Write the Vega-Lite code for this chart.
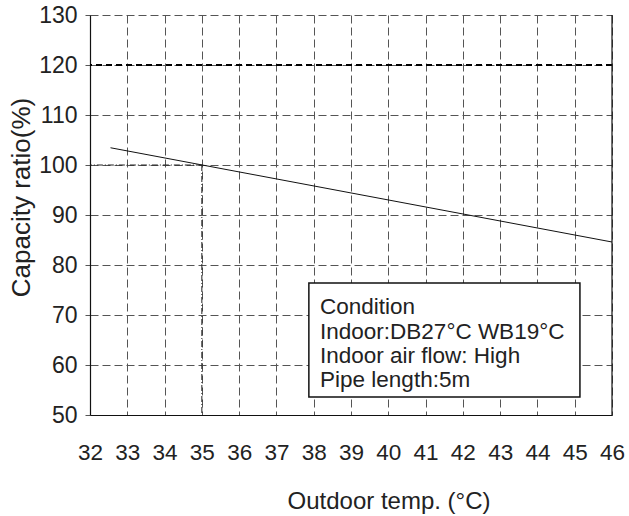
{
  "$schema": "https://vega.github.io/schema/vega-lite/v6.json",
  "width": 522,
  "height": 400,
  "autosize": {"type": "none"},
  "padding": {"left": 90, "top": 15, "right": 17, "bottom": 101},
  "background": "white",
  "config": {
    "view": {"stroke": null},
    "font": "Liberation Sans",
    "axis": {
      "grid": true, "gridDash": [8, 4], "gridColor": "#555", "gridWidth": 1,
      "domainColor": "#111", "domainWidth": 1.2,
      "labelColor": "#222", "labelFlush": false, "labelOverlap": false,
      "titleFontWeight": "normal", "titleColor": "#222"
    },
    "axisX": {
      "tickCount": 14, "labelFontSize": 22.5, "ticks": false, "tickSize": 0,
      "labelBaseline": "alphabetic", "labelPadding": 44,
      "titleFontSize": 24, "titleBaseline": "alphabetic", "titleY": 93, "titleX": 298.5
    },
    "axisY": {
      "tickCount": 8, "labelFontSize": 23, "tickSize": 5, "tickColor": "#555",
      "labelPadding": 8, "labelBaseline": "middle",
      "titleFontSize": 26, "titleBaseline": "alphabetic", "titleX": -61, "titleY": 182
    }
  },
  "datasets": {
    "curve": [
      {"temp": 32.55, "ratio": 103.45},
      {"temp": 46, "ratio": 84.6}
    ],
    "ref": [
      {"temp": 35, "ratio": 100}
    ],
    "box": [
      {"x1": 37.87, "x2": 45.14, "y1": 53.6, "y2": 76.4}
    ],
    "notes": [
      {"temp": 38.17, "ratio": 70.3, "label": "Condition"},
      {"temp": 38.17, "ratio": 65.3, "label": "Indoor:DB27°C WB19°C"},
      {"temp": 38.17, "ratio": 60.5, "label": "Indoor air flow: High"},
      {"temp": 38.17, "ratio": 55.7, "label": "Pipe length:5m"}
    ]
  },
  "layer": [
    {
      "data": {"name": "curve"},
      "mark": {"type": "line", "color": "#111", "strokeWidth": 1},
      "encoding": {
        "x": {
          "field": "temp", "type": "quantitative",
          "scale": {"domain": [32, 46], "nice": false, "zero": false},
          "title": "Outdoor temp. (°C)"
        },
        "y": {
          "field": "ratio", "type": "quantitative",
          "scale": {"domain": [50, 130], "nice": false, "zero": false},
          "title": "Capacity ratio(%)"
        }
      }
    },
    {
      "data": {"values": [{"ratio": 120}]},
      "mark": {"type": "rule", "color": "#000", "strokeWidth": 2, "strokeDash": [6, 4]},
      "encoding": {"y": {"field": "ratio", "type": "quantitative", "title": "Capacity ratio(%)"}}
    },
    {
      "data": {"values": [{"temp": 46}]},
      "mark": {"type": "rule", "color": "#111", "strokeWidth": 1.2},
      "encoding": {"x": {"field": "temp", "type": "quantitative", "title": "Outdoor temp. (°C)"}}
    },
    {
      "data": {"name": "ref"},
      "mark": {"type": "rule", "color": "#222", "strokeWidth": 1, "strokeDash": [6, 2, 1, 2]},
      "encoding": {
        "x": {"field": "temp", "type": "quantitative", "title": "Outdoor temp. (°C)"},
        "y": {"field": "ratio", "type": "quantitative", "title": "Capacity ratio(%)"},
        "y2": {"datum": 50}
      }
    },
    {
      "data": {"name": "ref"},
      "mark": {"type": "rule", "color": "#222", "strokeWidth": 1, "strokeDash": [6, 2, 1, 2]},
      "encoding": {
        "y": {"field": "ratio", "type": "quantitative", "title": "Capacity ratio(%)"},
        "x": {"field": "temp", "type": "quantitative", "title": "Outdoor temp. (°C)"},
        "x2": {"datum": 32}
      }
    },
    {
      "data": {"name": "box"},
      "mark": {"type": "rect", "fill": "white", "stroke": "#111", "strokeWidth": 1.5},
      "encoding": {
        "x": {"field": "x1", "type": "quantitative", "title": "Outdoor temp. (°C)"},
        "x2": {"field": "x2"},
        "y": {"field": "y1", "type": "quantitative", "title": "Capacity ratio(%)"},
        "y2": {"field": "y2"}
      }
    },
    {
      "data": {"name": "notes"},
      "mark": {"type": "text", "align": "left", "baseline": "alphabetic", "fontSize": 22.5, "color": "#222"},
      "encoding": {
        "x": {"field": "temp", "type": "quantitative", "title": "Outdoor temp. (°C)"},
        "y": {"field": "ratio", "type": "quantitative", "title": "Capacity ratio(%)"},
        "text": {"field": "label"}
      }
    }
  ]
}
